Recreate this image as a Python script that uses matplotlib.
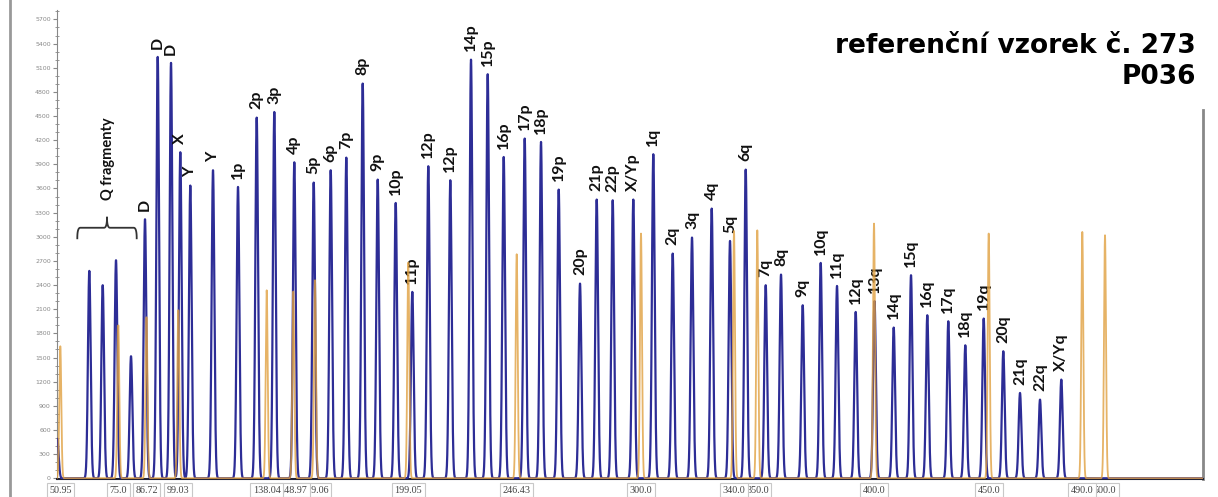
import numpy as np
import matplotlib.pyplot as plt
from matplotlib.lines import Line2D
from matplotlib.ticker import MultipleLocator

# blue channel: peak position (scan units), height (RFU), probe name
blue_pos = [57.3, 89.3, 102.7, 116, 131, 145, 157.7, 171, 180.3, 190.3, 213, 238,
            256.7, 274.3, 294.3, 313.7, 330.7, 346.3, 362.7, 377.7, 395.7, 412.3,
            428.3, 450.3, 471, 487.7, 503.7, 524.7, 541, 558.7, 580, 596.7, 612.7,
            633.3, 653.3, 672.7, 692, 711.7, 730, 745.7, 765.7, 781, 802.7, 820.7,
            837, 855.7, 874.5, 893.7, 911, 927.3, 948.3, 965.3, 983.7, 1003.3,
            1020, 1040, 1061.3]
blue_height = [490, 2576, 2398, 2708, 1516, 3217, 5234, 5160, 4050, 3636, 3826, 3619,
               4480, 4550, 3925, 3673, 3826, 3983, 4903, 3710, 3420, 2315,
               3876, 3702, 5200, 5019, 3991, 4220, 4178, 3586, 2418, 3462, 3453,
               3462, 4025, 2791, 2990, 3350, 2948, 3834, 2398, 2530, 2149, 2675,
               2389, 2066, 2200, 1872, 2522, 2025, 1950, 1652, 1984, 1578,
               1060, 977, 1226]
blue_names = ['', '', '', '', '', 'D', 'D', 'D', 'X', 'Y', 'Y', '1p',
              '2p', '3p', '4p', '5p', '6p', '7p', '8p', '9p', '10p', '11p',
              '12p', '12p', '14p', '15p', '16p', '17p', '18p', '19p', '20p', '21p', '22p',
              'X/Yp', '1q', '2q', '3q', '4q', '5q', '6q', '7q', '8q', '9q', '10q',
              '11q', '12q', '13q', '14q', '15q', '16q', '17q', '18q', '19q', '20q',
              '21q', '22q', 'X/Yq']

# size standard (orange channel)
size_pos = [60.3, 118.3, 146.5, 178.3, 266.7, 293.3, 315, 408.3, 516.7, 641,
            734, 757.3, 874, 988.7, 1082.3, 1105]
size_height = [1640, 1900, 2000, 2087, 2335, 2320, 2460, 2680, 2783, 3040,
               3072, 3080, 3164, 3040, 3060, 3019]
size_names = ['50.95', '75.0', '86.72', '99.03', '138.04', '148.97', '159.06',
              '199.05', '246.43', '300.0', '340.0', '350.0', '400.0', '450.0',
              '490.0', '500.0']

q_peaks = blue_pos[1:5]

W, H = 1218, 497
fig = plt.figure(figsize=(W / 100, H / 100), dpi=100)
ax = fig.add_axes([57 / W, 18 / H, 1146 / W, 469 / H])

scan = np.arange(57, 1203, 0.05)


def trace(pos, height, width):
    y = np.zeros_like(scan)
    for p, h in zip(pos, height):
        y += h * np.exp(-0.5 * ((scan - p) / width) ** 2)
    return y


ax.plot(scan, trace(blue_pos, blue_height, 1.35), color='#2d2d96', lw=1.6, zorder=3)
ax.plot(scan, trace(size_pos, size_height, 1.0), color='#e0a040', lw=1.3,
        alpha=0.8, zorder=4)

for p, h, name in zip(blue_pos, blue_height, blue_names):
    if name:
        ax.annotate(name, (p, h), xytext=(0, 6), textcoords='offset points',
                    rotation=90, ha='center', va='bottom', fontsize=11.5,
                    fontweight='bold', family='Lato', color='#111111')

# boxed size labels under the axis, earlier boxes drawn on top
xtr = ax.get_xaxis_transform()
n = len(size_names)
for i, (p, name) in enumerate(zip(size_pos, size_names)):
    ax.text(p, -0.024, name, transform=xtr, ha='center', va='center',
            fontsize=7.3, family='Liberation Serif', color='#444444',
            clip_on=False, zorder=20 + n - i,
            bbox=dict(boxstyle='square,pad=0.25', fc='white', ec='#c8c8c8', lw=0.8))


# curly brace over the Q fragments
def brace(x0, x1, y, drop, tip, r=3.0):
    xm = (x0 + x1) / 2
    t = np.linspace(0, 1, 20)[:, None]

    def quad(a, c, b):
        a, c, b = map(np.array, (a, c, b))
        return (1 - t) ** 2 * a + 2 * (1 - t) * t * c + t ** 2 * b

    parts = [quad((x0, y - drop), (x0, y), (x0 + r, y)),
             quad((xm - r, y), (xm, y), (xm, y + tip)),
             quad((xm, y + tip), (xm, y), (xm + r, y)),
             quad((x1 - r, y), (x1, y), (x1, y - drop))]
    pts = np.vstack(parts)
    ax.plot(pts[:, 0], pts[:, 1], color='#333333', lw=1.3, zorder=5)
    return xm


xm = brace(q_peaks[0] - 12, q_peaks[-1] + 5.7, 3112, 131, 130)
ax.text(xm + 1, 3453, 'Q fragmenty', rotation=90, ha='center', va='bottom',
        fontsize=10.5, fontweight='bold', family='Lato', color='#111111')

ax.set_xlim(57, 1203)
ax.set_ylim(-9, 5817)
ax.set_xticks([])
ax.set_yticks(range(0, 5701, 300))
ax.yaxis.set_minor_locator(MultipleLocator(100))
ax.tick_params(axis='y', which='major', labelsize=4.5, labelcolor='#888888',
               color='#888888', length=3, width=0.8, pad=1.5)
ax.tick_params(axis='y', which='minor', color='#888888', length=3, width=0.6,
               direction='inout')

ax.spines['top'].set_visible(False)
ax.spines['left'].set_color('#888888')
ax.spines['bottom'].set_color('#222233')
ax.spines['bottom'].set_linewidth(1.5)
ax.spines['right'].set_color('#888888')
ax.spines['right'].set_linewidth(2)
ax.spines['right'].set_bounds(-9, 4571)

fig.add_artist(Line2D([9.5 / W, 9.5 / W], [0, 1], color='#999999', lw=2,
                      transform=fig.transFigure))

fig.text(1196 / W, 1 - 53 / H, 'referenční vzorek č. 273', ha='right',
         va='baseline', fontsize=19, fontweight='bold', family='DejaVu Sans')
fig.text(1196 / W, 1 - 84 / H, 'P036', ha='right', va='baseline', fontsize=19,
         fontweight='bold', family='DejaVu Sans')

fig.savefig('out.png', dpi=100)
